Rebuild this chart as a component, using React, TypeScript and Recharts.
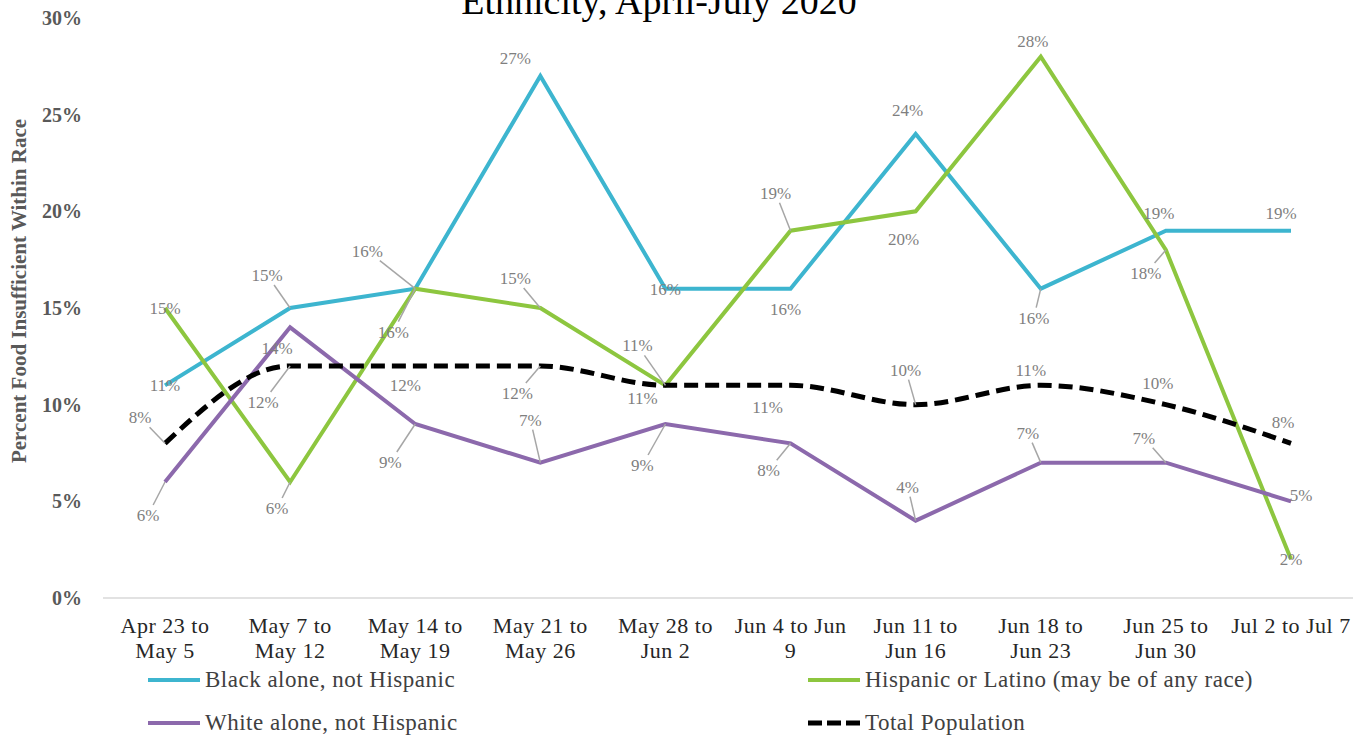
import React from 'react';
import { LineChart, Line, XAxis, YAxis, Legend } from 'recharts';

const categories = [
  'Apr 23 to\nMay 5',
  'May 7 to\nMay 12',
  'May 14 to\nMay 19',
  'May 21 to\nMay 26',
  'May 28 to\nJun 2',
  'Jun 4 to Jun\n9',
  'Jun 11 to\nJun 16',
  'Jun 18 to\nJun 23',
  'Jun 25 to\nJun 30',
  'Jul 2 to Jul 7',
];
const black = [11, 15, 16, 27, 16, 16, 24, 16, 19, 19];
const hispanic = [15, 6, 16, 15, 11, 19, 20, 28, 18, 2];
const white = [6, 14, 9, 7, 9, 8, 4, 7, 7, 5];
const total = [8, 12, 12, 12, 11, 11, 10, 11, 10, 8];
const yTicks = [0, 5, 10, 15, 20, 25, 30];

const seriesNames = {
  black: 'Black alone, not Hispanic',
  hispanic: 'Hispanic or Latino (may be of any race)',
  white: 'White alone, not Hispanic',
  total: 'Total Population',
};
const colors = {
  black: '#3DB5CF',
  hispanic: '#8DC63F',
  white: '#8C69AC',
  total: '#000000',
};

// label placement: [dx, dy, leaderLine]
const blackLabelPos = [[0, 0, 0], [-23, -33, 1], [-48, -38, 1], [-25, -18, 0], [0, 0, 0], [-5, 20, 0], [-8, -24, 0], [-7, 29, 1], [-7, -18, 0], [-10, -18, 0]];
const hispanicLabelPos = [[0, 0, 0], [-13, 26, 1], [-22, 43, 1], [-25, -30, 1], [-23, 13, 0], [-15, -38, 1], [-12, 28, 0], [-8, -16, 0], [-20, 23, 1], [0, 0, 0]];
const whiteLabelPos = [[-17, 33, 1], [-13, 21, 0], [-25, 38, 1], [-10, -43, 1], [-23, 41, 1], [-22, 27, 1], [-8, -34, 1], [-13, -30, 1], [-22, -25, 1], [10, -6, 0]];
const totalLabelPos = [[-25, -26, 1], [-27, 36, 1], [-10, 19, 0], [-23, 27, 1], [-28, -40, 1], [-23, 22, 0], [-10, -35, 1], [-10, -15, 0], [-8, -22, 0], [-8, -21, 0]];

const data = categories.map((c, i) => ({
  category: c,
  black: black[i],
  hispanic: hispanic[i],
  white: white[i],
  total: total[i],
}));

const FONT = 'Liberation Serif';

const makeLabel = (pos: number[][]) => (props: any) => {
  const { x, y, value, index } = props;
  if (x == null || y == null) return null;
  const [dx, dy, leader] = pos[index];
  const cx = x + dx;
  const cy = y + dy;
  let line = null;
  if (leader) {
    const dist = Math.hypot(dx, dy);
    const ux = dx / dist;
    const uy = dy / dist;
    const s = Math.min(Math.abs(ux) > 0.001 ? 18 / Math.abs(ux) : 1e9, Math.abs(uy) > 0.001 ? 10 / Math.abs(uy) : 1e9);
    line = (
      <line x1={x} y1={y} x2={cx - ux * s} y2={cy - uy * s} stroke="#a6a6a6" strokeWidth={1.5} />
    );
  }
  return (
    <g>
      {line}
      <text x={cx} y={cy} dy={6} textAnchor="middle" fontSize={17} fill="#7f7f7f" style={{ fontFamily: FONT }}>
        {value}%
      </text>
    </g>
  );
};

const XTick = (props: any) => {
  const { x, y, payload } = props;
  const lines = String(payload.value).split('\n');
  return (
    <g>
      {lines.map((l, i) => (
        <text
          key={i}
          x={x}
          y={y + 27 + i * 25}
          textAnchor="middle"
          fontSize={22}
          fill="#262626"
          style={{ fontFamily: FONT, letterSpacing: 0.5 }}
        >
          {l}
        </text>
      ))}
    </g>
  );
};

const YTick = (props: any) => {
  const { x, y, payload } = props;
  return (
    <text x={x - 13} y={y + 7} textAnchor="end" fontSize={20} fontWeight="bold" fill="#595959" style={{ fontFamily: FONT }}>
      {payload.value}%
    </text>
  );
};

const legendItems = [
  { key: 'black', left: 148, top: 680, dashed: false },
  { key: 'hispanic', left: 808, top: 680, dashed: false },
  { key: 'white', left: 148, top: 723, dashed: false },
  { key: 'total', left: 808, top: 723, dashed: true },
];

const LegendContent = () => (
  <div style={{ position: 'relative', width: 1358, height: 738 }}>
    {legendItems.map((it) => (
      <div
        key={it.key}
        style={{
          position: 'absolute',
          left: it.left,
          top: it.top - 15,
          height: 30,
          display: 'flex',
          alignItems: 'center',
          fontFamily: FONT,
          fontSize: 23,
          letterSpacing: 0.5,
          color: '#404040',
          whiteSpace: 'nowrap',
        }}
      >
        <svg width={52} height={8} style={{ marginRight: 5 }}>
          <line
            x1={0}
            y1={4}
            x2={52}
            y2={4}
            stroke={(colors as any)[it.key]}
            strokeWidth={it.dashed ? 5 : 4}
            strokeDasharray={it.dashed ? '14 5' : undefined}
          />
        </svg>
        <span>{(seriesNames as any)[it.key]}</span>
      </div>
    ))}
  </div>
);

export default function App() {
  return (
    <div style={{ position: 'absolute', left: 0, top: 0, width: 1358, height: 738, background: '#fff' }}>
      <LineChart
        width={1358}
        height={738}
        data={data}
        margin={{ top: 18, right: 5, bottom: 80, left: 3 }}
        style={{ fontFamily: FONT }}
      >
        <text x={659} y={14} textAnchor="middle" fontSize={38} fill="#000" style={{ fontFamily: FONT }}>
          Ethnicity, April-July 2020
        </text>
        <XAxis
          dataKey="category"
          height={60}
          interval={0}
          padding={{ left: 62, right: 62 }}
          tickLine={false}
          axisLine={{ stroke: '#d9d9d9', strokeWidth: 1.5 }}
          tick={<XTick />}
        />
        <YAxis
          width={100}
          domain={[0, 30]}
          ticks={yTicks}
          axisLine={false}
          tickLine={false}
          tick={<YTick />}
          label={{
            content: () => (
              <text
                x={26}
                y={291}
                transform="rotate(-90 26 291)"
                textAnchor="middle"
                fontSize={21}
                fontWeight="bold"
                fill="#595959"
                style={{ fontFamily: FONT }}
              >
                Percent Food Insufficient Within Race
              </text>
            ),
          }}
        />
        <Legend
          layout="horizontal"
          verticalAlign="middle"
          wrapperStyle={{ left: 0, top: 0, width: 1358, height: 738, pointerEvents: 'none' }}
          content={<LegendContent />}
        />
        <Line
          type="linear"
          dataKey="black"
          name={seriesNames.black}
          stroke={colors.black}
          strokeWidth={4}
          dot={false}
          isAnimationActive={false}
          label={makeLabel(blackLabelPos)}
        />
        <Line
          type="linear"
          dataKey="hispanic"
          name={seriesNames.hispanic}
          stroke={colors.hispanic}
          strokeWidth={4}
          dot={false}
          isAnimationActive={false}
          label={makeLabel(hispanicLabelPos)}
        />
        <Line
          type="linear"
          dataKey="white"
          name={seriesNames.white}
          stroke={colors.white}
          strokeWidth={4}
          dot={false}
          isAnimationActive={false}
          label={makeLabel(whiteLabelPos)}
        />
        <Line
          type="monotone"
          dataKey="total"
          name={seriesNames.total}
          stroke={colors.total}
          strokeWidth={5}
          strokeDasharray="14 7"
          dot={false}
          isAnimationActive={false}
          label={makeLabel(totalLabelPos)}
        />
      </LineChart>
    </div>
  );
}
